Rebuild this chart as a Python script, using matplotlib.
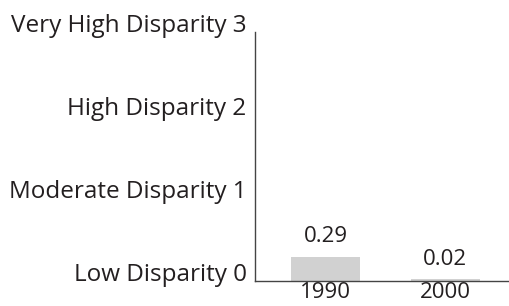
import matplotlib
matplotlib.use("Agg")
import matplotlib.pyplot as plt
from matplotlib.transforms import ScaledTranslation

years = ["1990", "2000"]
values = [0.29, 0.02]
ytick_vals = [0, 1, 2, 3]
ytick_labels = ["Low Disparity 0", "Moderate Disparity 1", "High Disparity 2", "Very High Disparity 3"]

plt.rcParams['font.family'] = ['Open Sans', 'DejaVu Sans']
txt = '#231f20'

fig = plt.figure(figsize=(5.09, 3.06), dpi=100)
ax = fig.add_axes([255/509, 1-281/306, (509-255)/509, (281-32)/306])

x = list(range(len(years)))
ax.bar(x, values, width=0.575, color='#d1d1d1')
ax.set_xlim(-0.5875, 1.53)
ax.set_ylim(0, 3)

for xi, v in zip(x, values):
    ax.annotate(f"{v:.2f}", (xi, v), xytext=(0, 7), textcoords='offset points',
                ha='center', va='bottom', fontsize=16, color=txt)

ax.set_xticks(x)
ax.set_xticklabels(years, fontsize=16, color=txt)
ax.set_yticks(ytick_vals)
ax.set_yticklabels(ytick_labels, fontsize=17.5, color=txt)
ax.tick_params(axis='both', length=0)
ax.tick_params(axis='y', pad=6)
ax.tick_params(axis='x', pad=1)
off = ScaledTranslation(0, 9/100, fig.dpi_scale_trans)
for lab in ax.get_yticklabels():
    lab.set_transform(lab.get_transform() + off)

for s in ['top', 'right']:
    ax.spines[s].set_visible(False)
for s in ['left', 'bottom']:
    ax.spines[s].set_color('#444444')
    ax.spines[s].set_linewidth(1.0)

fig.savefig("out.png", dpi=100)
